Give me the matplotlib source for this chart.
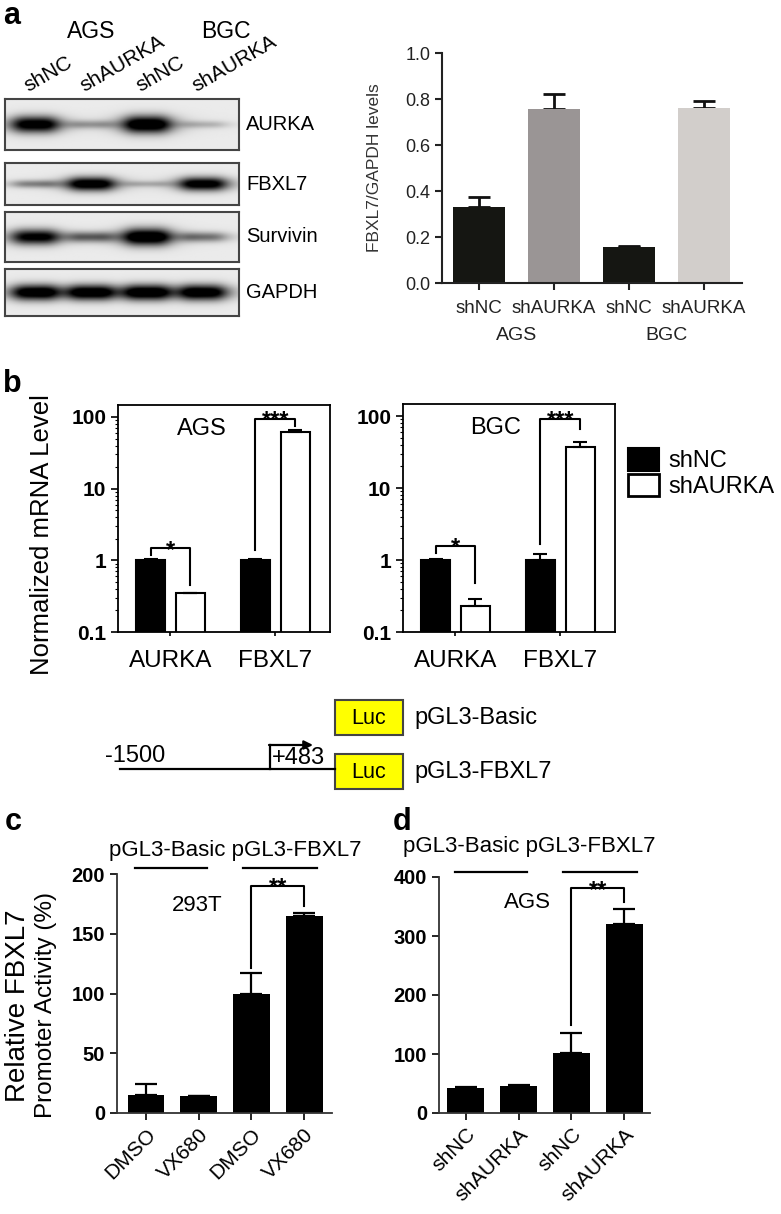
import numpy as np
import matplotlib
matplotlib.use("Agg")
import matplotlib.pyplot as plt
from matplotlib.patches import Rectangle, Patch
from matplotlib.transforms import blended_transform_factory

plt.rcParams['font.family'] = ['Liberation Sans', 'DejaVu Sans']

W, H = 781, 1214

# ---- data ----
lanes = ["shNC", "shAURKA", "shNC", "shAURKA"]
cell_lines = ["AGS", "BGC"]
blot_proteins = ["AURKA", "FBXL7", "Survivin", "GAPDH"]
aurka_band = [0.92, 0.25, 1.0, 0.18]
fbxl7_band = [0.35, 0.95, 0.18, 0.92]
survivin_band = [0.85, 0.45, 1.0, 0.40]
gapdh_band = [0.95, 0.93, 0.95, 0.95]

ratio_vals = [0.33, 0.755, 0.155, 0.76]
ratio_err = [0.045, 0.065, 0.007, 0.03]
ratio_colors = ["#151612", "#9a9595", "#151612", "#d2cecb"]

genes = ["AURKA", "FBXL7"]
ags_shnc = [1.0, 1.0]
ags_shnc_err = [0.05, 0.03]
ags_shaurka = [0.35, 62.0]
ags_shaurka_err = [0.005, 3.0]
bgc_shnc = [1.0, 1.0]
bgc_shnc_err = [0.04, 0.2]
bgc_shaurka = [0.23, 37.0]
bgc_shaurka_err = [0.06, 6.0]

c_labels = ["DMSO", "VX680", "DMSO", "VX680"]
c_vals = [15, 14, 100, 165]
c_err = [9, 0.5, 17, 2.5]
d_labels = ["shNC", "shAURKA", "shNC", "shAURKA"]
d_vals = [42, 45, 101, 321]
d_err = [2, 2, 35, 24]


def rect(x0, y0, x1, y1):
    return [x0 / W, 1 - y1 / H, (x1 - x0) / W, (y1 - y0) / H]


fig = plt.figure(figsize=(W / 100, H / 100), dpi=100)
ov = fig.add_axes([0, 0, 1, 1])
ov.set_xlim(0, W)
ov.set_ylim(H, 0)
ov.axis('off')

for lab, x, y in [("a", 3, 24), ("b", 3, 392), ("c", 5, 830), ("d", 393, 830)]:
    ov.text(x, y, lab, fontsize=22, fontweight='bold', va='baseline')

# ---- panel a: western blot ----
strip_rows = [(99, 150), (163, 205), (212, 262), (269, 316)]
bands = [aurka_band, fbxl7_band, survivin_band, gapdh_band]
bx0, bx1 = -0.536, 3.64
strip_axes = []
for name, band, (y0, y1) in zip(blot_proteins, bands, strip_rows):
    ax = fig.add_axes(rect(5, y0, 239, y1))
    xs = np.linspace(bx0, bx1, 400)
    ys = np.linspace(-1, 1, 80)
    X, Y = np.meshgrid(xs, ys)
    img = np.full(X.shape, 0.08)
    for i, v in enumerate(band):
        px = 1 / (1 + ((X - i * 1.0) / 0.42) ** 4)
        sy = 0.1 + 0.25 * v
        py = np.exp(-(Y / sy) ** 2)
        img += 1.15 * v * px * py
    ax.imshow(np.clip(img, 0, 1), cmap='gray_r', vmin=0, vmax=1,
              extent=(bx0, bx1, -1, 1), aspect='auto', interpolation='bilinear')
    ax.set_xticks([])
    ax.set_yticks([])
    for s in ax.spines.values():
        s.set_color('#444444')
        s.set_linewidth(1.5)
    ov.text(246, (y0 + y1) / 2, name, fontsize=14.5, va='center', ha='left')
    strip_axes.append(ax)

tr = blended_transform_factory(strip_axes[0].transData, ov.transData)
for i, lab in enumerate(lanes):
    strip_axes[0].text(i - 0.12, 92, lab, transform=tr, rotation=30,
                       rotation_mode='anchor', ha='left', va='baseline',
                       fontsize=15)
for cl, cx in zip(cell_lines, [1.0, 3.4]):
    strip_axes[0].text(cx, 31, cl, transform=tr, ha='center',
                       va='center', fontsize=16.5)

# ---- panel a: quantification ----
axr = fig.add_axes(rect(442, 53, 742, 283))
xr = np.arange(len(ratio_vals))
axr.errorbar(xr, ratio_vals, yerr=[np.zeros(4), ratio_err], fmt='none',
             ecolor='#111111', elinewidth=2, capsize=8, capthick=2, zorder=1)
axr.bar(xr, ratio_vals, width=0.69, color=ratio_colors, zorder=2)
axr.set_xlim(-0.49, 3.51)
axr.set_ylim(0, 1.0)
axr.set_yticks(np.arange(0, 1.01, 0.2))
axr.set_yticklabels([f"{v:.1f}" for v in np.arange(0, 1.01, 0.2)])
axr.set_xticks(xr)
axr.set_xticklabels(lanes, fontsize=13.5)
axr.tick_params(axis='y', labelsize=13, length=5, width=1.5, colors='#222222')
axr.tick_params(axis='x', length=5, width=1.5, pad=7, colors='#222222')
for s in ['top', 'right']:
    axr.spines[s].set_visible(False)
for s in ['left', 'bottom']:
    axr.spines[s].set_linewidth(1.5)
    axr.spines[s].set_color('#222222')
axr.set_ylabel("FBXL7/GAPDH levels", fontsize=12.5, color='#333333')
axr.yaxis.set_label_coords(-0.2, 0.5)
trr = blended_transform_factory(axr.transData, ov.transData)
for j, cl in enumerate(cell_lines):
    axr.text(2 * j + 0.5, 335, cl, transform=trr, ha='center', va='center',
             fontsize=14, color='#222222')


# ---- panel b: qPCR ----
def draw_qpcr(box, name, shnc, shnc_e, sha, sha_e, brackets, name_x):
    ax = fig.add_axes(rect(*box))
    g = np.arange(len(genes))
    ax.bar(g - 0.19, shnc, width=0.27, color='black', edgecolor='black',
           lw=1.5, yerr=[np.zeros(2), shnc_e],
           error_kw=dict(capsize=5, elinewidth=1.5, capthick=1.5))
    ax.bar(g + 0.19, sha, width=0.27, color='white', edgecolor='black',
           lw=1.5, yerr=[np.zeros(2), sha_e],
           error_kw=dict(capsize=5, elinewidth=1.5, capthick=1.5))
    ax.set_yscale('log')
    ax.set_ylim(0.1, 147)
    ax.set_xlim(-0.5, 1.52)
    ax.set_yticks([0.1, 1, 10, 100])
    ax.set_yticklabels(['0.1', '1', '10', '100'], fontweight='bold', fontsize=15)
    ax.set_xticks(g)
    ax.set_xticklabels(genes, fontsize=17.5)
    ax.tick_params(axis='x', length=3, width=1.2, pad=10)
    ax.tick_params(axis='y', which='major', length=5, width=1.2)
    ax.tick_params(axis='y', which='minor', length=2.5, width=0.8)
    for s in ax.spines.values():
        s.set_linewidth(1.3)
    ax.text(name_x, 68, name, ha='center', va='center', fontsize=17)
    for gi, yl, yt, yr, stars in brackets:
        x0, x1 = gi - 0.19, gi + 0.19
        ax.plot([x0, x0, x1, x1], [yl, yt, yt, yr], color='black', lw=1.5)
        ax.annotate(stars, ((x0 + x1) / 2, yt), xytext=(0, -6),
                    textcoords='offset points', ha='center', va='baseline',
                    fontsize=17, fontweight='bold')
    return ax


axb1 = draw_qpcr((118, 405, 330, 632), "AGS", ags_shnc, ags_shnc_err,
                 ags_shaurka, ags_shaurka_err,
                 [(0, 1.2, 1.47, 0.45, "*"), (1, 1.38, 94, 75, "***")], 0.3)
axb1.set_ylabel("Normalized mRNA Level", fontsize=18.5)
axb1.yaxis.set_label_coords(-0.3, 0.43)
axb2 = draw_qpcr((403, 404, 615, 632), "BGC", bgc_shnc, bgc_shnc_err,
                 bgc_shaurka, bgc_shaurka_err,
                 [(0, 1.25, 1.56, 0.48, "*"), (1, 1.67, 91, 66, "***")], 0.38)

fig.legend(handles=[Patch(facecolor='black', edgecolor='black', lw=1.5),
                    Patch(facecolor='white', edgecolor='black', lw=2)],
           labels=['shNC', 'shAURKA'], loc='upper left',
           bbox_to_anchor=(628 / W, 1 - 448 / H), frameon=False, fontsize=17,
           handlelength=1.3, handleheight=1.1, handletextpad=0.4,
           labelspacing=0.05, borderaxespad=0, borderpad=0)

# ---- promoter diagram ----
ov.plot([120, 335], [769, 769], color='black', lw=1.6)
ov.plot([270, 270], [769, 745], color='black', lw=1.6)
ov.annotate('', xy=(313, 745), xytext=(269, 745),
            arrowprops=dict(arrowstyle='-|>', lw=1.6, color='black',
                            mutation_scale=13, shrinkA=0, shrinkB=0))
for y0, lab in [(700, "pGL3-Basic"), (754, "pGL3-FBXL7")]:
    ov.add_patch(Rectangle((335, y0), 68, 35, facecolor='#ffff00',
                           edgecolor='#444444', lw=1.5))
    ov.text(369, y0 + 18, "Luc", ha='center', va='center', fontsize=15.5)
    ov.text(414, y0 + 18, lab, ha='left', va='center', fontsize=17)
ov.text(105, 762, "-1500", ha='left', va='baseline', fontsize=17)
ov.text(272, 764, "+483", ha='left', va='baseline', fontsize=17)


# ---- panels c, d: luciferase ----
def draw_luc(box, labels, vals, errs, ymax, xlim, cell, cell_xy, title_xy,
             line_y, bracket, caps):
    ax = fig.add_axes(rect(*box))
    x = np.arange(len(vals))
    ax.bar(x, vals, width=0.7, color='black', yerr=[np.zeros(4), errs],
           error_kw=dict(capsize=caps, elinewidth=1.6, capthick=1.6))
    ax.set_xlim(*xlim)
    ax.set_ylim(0, ymax)
    ax.set_yticks(np.linspace(0, ymax, 5))
    ax.set_yticklabels([f"{v:.0f}" for v in np.linspace(0, ymax, 5)],
                       fontweight='bold', fontsize=14.5)
    ax.set_xticks(x)
    ax.set_xticklabels(labels, rotation=45, ha='right', rotation_mode='anchor',
                       fontsize=15)
    ax.tick_params(length=5, width=1.2)
    for s in ['top', 'right']:
        ax.spines[s].set_visible(False)
    for s in ['left', 'bottom']:
        ax.spines[s].set_linewidth(1.3)
        ax.spines[s].set_color('#333333')
    for xa, xb in [(-0.2, 1.15), (1.85, 3.25)]:
        ax.plot([xa, xb], [line_y, line_y], color='black', lw=1.6, clip_on=False)
    ax.text(title_xy[0], title_xy[1], "pGL3-Basic pGL3-FBXL7", ha='center',
            va='center', fontsize=16, clip_on=False)
    ax.text(cell_xy[0], cell_xy[1], cell, ha='center', va='center', fontsize=16)
    yl, yt, yr = bracket
    ax.plot([2, 2, 3, 3], [yl, yt, yt, yr], color='black', lw=1.5,
            clip_on=False)
    ax.annotate("**", (2.5, yt), xytext=(0, -6), textcoords='offset points',
                ha='center', va='baseline', fontsize=17, fontweight='bold',
                annotation_clip=False)
    return ax


axc = draw_luc((117, 874, 332, 1113), c_labels, c_vals, c_err, 200,
               (-0.55, 3.53), "293T", (0.97, 174), (1.69, 220), 205,
               (121, 190, 173.5), 8)
axc.text(-0.46 - 0.0, 0.45, "Relative FBXL7", transform=axc.transAxes,
         rotation=90, ha='center', va='center', fontsize=20)
axc.text(-0.33, 0.45, "Promoter Activity (%)", transform=axc.transAxes,
         rotation=90, ha='center', va='center', fontsize=17.5)
axd = draw_luc((439, 877, 650, 1113), d_labels, d_vals, d_err, 400,
               (-0.51, 3.49), "AGS", (1.16, 356), (1.21, 451), 408,
               (149, 381, 358), 8)

fig.savefig("out.png", dpi=100)
